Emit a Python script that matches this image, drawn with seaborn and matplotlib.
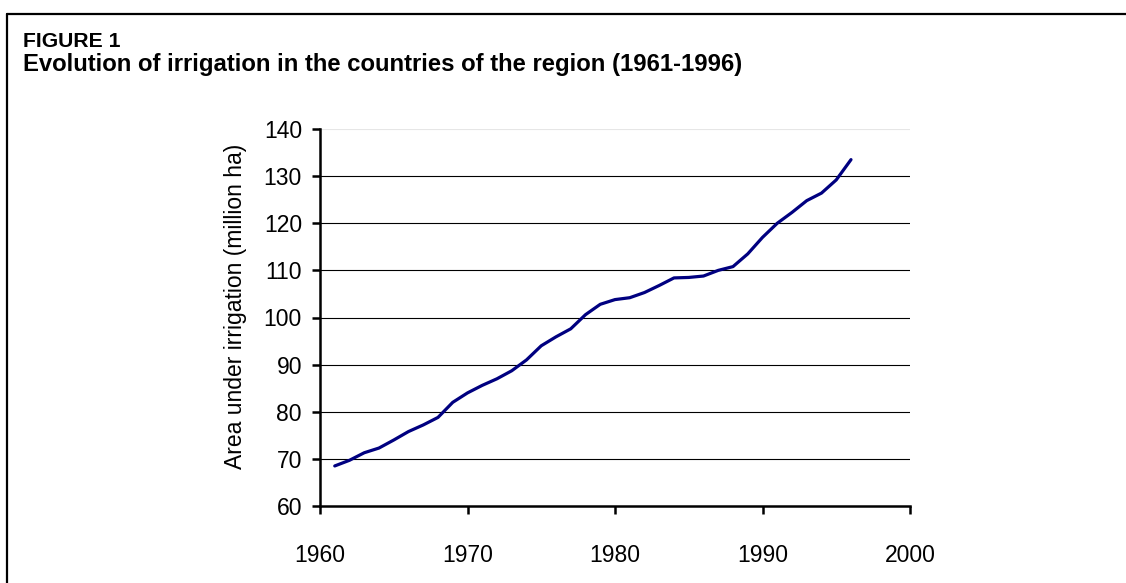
import matplotlib
matplotlib.use("Agg")
import matplotlib.pyplot as plt
from matplotlib.lines import Line2D
import seaborn as sns
import pandas as pd

years = list(range(1961, 1997))
area = [68.5, 69.7, 71.3, 72.3, 74.0, 75.8, 77.2, 78.8, 82.0, 84.0,
        85.6, 87.0, 88.7, 91.0, 94.0, 95.9, 97.6, 100.6, 102.8, 103.8,
        104.2, 105.3, 106.8, 108.4, 108.5, 108.8, 110.0, 110.8, 113.5, 117.0,
        120.0, 122.3, 124.8, 126.4, 129.2, 133.5]
x_ticks = [1960, 1970, 1980, 1990, 2000]
y_ticks = [60, 70, 80, 90, 100, 110, 120, 130, 140]

title_1 = "FIGURE 1"
title_2 = "Evolution of irrigation in the countries of the region (1961-1996)"
y_label = "Area under irrigation (million ha)"

df = pd.DataFrame({"year": years, "area": area})

sns.set_theme(style="white")
plt.rcParams["font.family"] = ["Liberation Sans", "DejaVu Sans"]
plt.rcParams["text.color"] = "black"
plt.rcParams["axes.labelcolor"] = "black"

fig = plt.figure(figsize=(11.26, 5.83), dpi=100)
ax = fig.add_axes([320/1126, 1-506/583, (910-320)/1126, (506-129)/583])

for yv in y_ticks[1:-1]:
    ax.axhline(yv, color="black", lw=0.8, zorder=1)
ax.axhline(y_ticks[-1], color="#e6e6e6", lw=0.8, zorder=1)

sns.lineplot(data=df, x="year", y="area", ax=ax, color="#000080", lw=2.3, zorder=3)

ax.set_xlim(1960, 2000)
ax.set_ylim(60, 140)
ax.set_xticks(x_ticks)
ax.set_yticks(y_ticks)
ax.set_xlabel("")
ax.set_ylabel(y_label, fontsize=16.5, color="black")
ax.yaxis.set_label_coords(-0.124, 0.529)
for s in ["top", "right"]:
    ax.spines[s].set_visible(False)
for s in ["left", "bottom"]:
    ax.spines[s].set_color("black")
    ax.spines[s].set_linewidth(1.8)
ax.tick_params(axis="both", which="major", direction="out", length=6, width=1.8,
               colors="black", labelsize=16.5, labelcolor="black")
ax.tick_params(axis="y", pad=7, left=True)
ax.tick_params(axis="x", pad=21, bottom=True)
ax.grid(False)

fig.text(23/1126, 1-46.7/583, title_1, fontsize=15.2, fontweight="bold", va="baseline", ha="left", color="black")
fig.text(23/1126, 1-70.5/583, title_2, fontsize=17.2, fontweight="bold", va="baseline", ha="left", color="black")

fy = 1 - 13.5/583
fx = 7/1126
fig.add_artist(Line2D([fx, fx], [0, fy], transform=fig.transFigure, color="black", lw=1.6))
fig.add_artist(Line2D([fx, 1], [fy, fy], transform=fig.transFigure, color="black", lw=1.6))

fig.savefig("out.png", dpi=100, facecolor="white")
